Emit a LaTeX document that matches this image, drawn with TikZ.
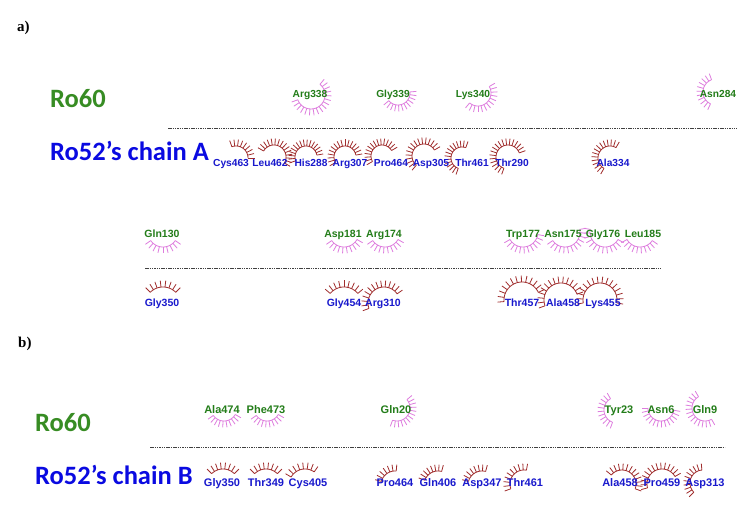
\documentclass[tikz,border=0pt]{standalone}
\usepackage{fontspec}
\setmainfont{Liberation Sans}
\newfontfamily\bigfont{Carlito}
\newfontfamily\serifont{Liberation Serif}
\definecolor{rgreen}{RGB}{35,125,25}
\definecolor{rblue}{RGB}{25,25,205}
\definecolor{lpink}{RGB}{222,125,222}
\definecolor{lred}{RGB}{160,45,45}
\definecolor{bgreen}{RGB}{55,140,35}
\definecolor{bblue}{RGB}{10,10,225}
\newcommand{\lash}[6]{%
  \draw[#6] plot[domain=#4:#5,samples=25,smooth] ({#1+#3*cos(\x)},{#2-#3*sin(\x)});
  \pgfmathtruncatemacro\lashn{max(2,round(abs(#5-#4)/13))}%
  \foreach \i in {0,...,\lashn}{%
    \pgfmathsetmacro\lasht{#4+\i*(#5-#4)/\lashn}%
    \draw[#6] ({#1+#3*cos(\lasht)},{#2-#3*sin(\lasht)}) -- ({#1+(#3+6.5)*cos(\lasht)},{#2-(#3+6.5)*sin(\lasht)});
  }}
\begin{document}
\begin{tikzpicture}[x=1pt,y=-1pt,
  pk/.style={lpink,line width=0.8pt},
  rd/.style={lred,line width=0.8pt},
  sep/.style={black!75,line width=0.6pt,dash pattern=on 1.5pt off 0.8pt},
  gA/.style={text=rgreen,font=\bfseries\fontsize{10.2}{11}\selectfont,anchor=base,inner sep=0pt},
  bA/.style={text=rblue,font=\bfseries\fontsize{10.2}{11}\selectfont,anchor=base,inner sep=0pt},
  gB/.style={text=rgreen,font=\bfseries\fontsize{10.5}{11}\selectfont,anchor=base,inner sep=0pt},
  bB/.style={text=rblue,font=\bfseries\fontsize{10.5}{11}\selectfont,anchor=base,inner sep=0pt},
  gC/.style={text=rgreen,font=\bfseries\fontsize{11}{12}\selectfont,anchor=base,inner sep=0pt},
  bC/.style={text=rblue,font=\bfseries\fontsize{11}{12}\selectfont,anchor=base,inner sep=0pt},
  big/.style={font=\bigfont\bfseries\fontsize{26.5}{30}\selectfont,anchor=base west,inner sep=0pt},
  part/.style={font=\serifont\bfseries\fontsize{15}{17}\selectfont,anchor=base west,inner sep=0pt}]
\useasboundingbox (0,0) rectangle (756,510);
\fill[white] (0,0) rectangle (756,510);

% part labels
\node[part] (pa) at (17,32) {a)};
\node[part] (pb) at (18,348) {b)};

% big labels
\node[big,text=bgreen] (ro60a) at (50,108) {Ro60};
\node[big,text=bblue] (ro52a) at (50,161) {Ro52’s chain A};
\node[big,text=bgreen] (ro60b) at (35,432) {Ro60};
\node[big,text=bblue] (ro52b) at (35,485) {Ro52’s chain B};

% separators
\draw[sep] (168,128) -- (737,128);
\draw[sep] (145,268) -- (661,268);
\draw[sep] (150,447) -- (725,447);

% ---- a) top: Ro60 lashes
\lash{311}{95}{14}{200}{410}{pk}
\lash{398}{93}{12}{220}{365}{pk}
\lash{478}{93}{13}{230}{390}{pk}
\lash{716}{92}{13}{110}{245}{pk}
% ---- a) top: Ro52 lashes
\lash{236}{158}{12}{0}{110}{rd}
\lash{274}{157}{12}{-30}{150}{rd}
\lash{306}{157}{11}{10}{200}{rd}
\lash{345}{157}{11}{10}{210}{rd}
\lash{382}{156}{11}{30}{210}{rd}
\lash{424}{156}{12}{30}{230}{rd}
\lash{462}{158}{11}{70}{250}{rd}
\lash{508}{157}{12}{20}{250}{rd}
\lash{610}{158}{12}{60}{240}{rd}

% ---- a) middle: Ro60 lashes
\lash{163}{232}{15}{215}{325}{pk}
\lash{344}{232}{15}{215}{330}{pk}
\lash{385}{232}{15}{215}{330}{pk}
\lash{523}{232}{15}{210}{350}{pk}
\lash{565}{232}{15}{215}{370}{pk}
\lash{605}{232}{15}{170}{330}{pk}
\lash{640}{232}{15}{210}{325}{pk}
% ---- a) middle: Ro52 lashes
\lash{163}{305}{18}{45}{135}{rd}
\lash{344}{305}{18}{40}{140}{rd}
\lash{384}{303}{16}{35}{200}{rd}
\lash{522}{300}{18}{25}{185}{rd}
\lash{561}{300}{17}{20}{200}{rd}
\lash{600}{300}{17}{-10}{190}{rd}

% ---- b): Ro60 lashes
\lash{224}{408}{13}{215}{330}{pk}
\lash{267}{408}{13}{215}{330}{pk}
\lash{397}{408}{13}{250}{400}{pk}
\lash{617}{410}{13}{120}{250}{pk}
\lash{661}{408}{13}{180}{350}{pk}
\lash{705}{408}{13}{120}{300}{pk}
% ---- b): Ro52 lashes
\lash{223}{485}{16}{45}{135}{rd}
\lash{266}{485}{16}{45}{135}{rd}
\lash{305}{485}{16}{55}{150}{rd}
\lash{395}{485}{14}{85}{165}{rd}
\lash{438}{485}{14}{75}{160}{rd}
\lash{482}{485}{14}{75}{165}{rd}
\lash{524}{484}{14}{80}{200}{rd}
\lash{622}{484}{14}{-20}{140}{rd}
\lash{662}{484}{15}{30}{195}{rd}
\lash{703}{483}{13}{95}{225}{rd}

% ---- labels a) top
\node[gA] (a1) at (310,97.6) {Arg338};
\node[gA] (a2) at (393,97.6) {Gly339};
\node[gA] (a3) at (473,97.6) {Lys340};
\node[gA] (a4) at (718,97.6) {Asn284};
\node[bA] (a5) at (231,166.6) {Cys463};
\node[bA] (a6) at (270,166.6) {Leu462};
\node[bA] (a7) at (311,166.6) {His288};
\node[bA] (a8) at (350,166.6) {Arg307};
\node[bA] (a9) at (391,166.6) {Pro464};
\node[bA] (a10) at (431,166.6) {Asp305};
\node[bA] (a11) at (472,166.6) {Thr461};
\node[bA] (a12) at (512,166.6) {Thr290};
\node[bA] (a13) at (613,166.6) {Ala334};
% ---- labels a) middle
\node[gB] (m1) at (162,237.8) {Gln130};
\node[gB] (m2) at (343,237.8) {Asp181};
\node[gB] (m3) at (384,237.8) {Arg174};
\node[gB] (m4) at (523,237.8) {Trp177};
\node[gB] (m5) at (563,237.8) {Asn175};
\node[gB] (m6) at (603,237.8) {Gly176};
\node[gB] (m7) at (643,237.8) {Leu185};
\node[bB] (m8) at (162,306.8) {Gly350};
\node[bB] (m9) at (344,306.8) {Gly454};
\node[bB] (m10) at (383,306.8) {Arg310};
\node[bB] (m11) at (522,306.8) {Thr457};
\node[bB] (m12) at (563,306.8) {Ala458};
\node[bB] (m13) at (603,306.8) {Lys455};
% ---- labels b)
\node[gC] (b1) at (222,414) {Ala474};
\node[gC] (b2) at (266,414) {Phe473};
\node[gC] (b3) at (396,414) {Gln20};
\node[gC] (b4) at (619,414) {Tyr23};
\node[gC] (b5) at (661,414) {Asn6};
\node[gC] (b6) at (705,414) {Gln9};
\node[bC] (b7) at (222,487) {Gly350};
\node[bC] (b8) at (266,487) {Thr349};
\node[bC] (b9) at (308,487) {Cys405};
\node[bC] (b10) at (395,487) {Pro464};
\node[bC] (b11) at (438,487) {Gln406};
\node[bC] (b12) at (482,487) {Asp347};
\node[bC] (b13) at (525,487) {Thr461};
\node[bC] (b14) at (620,487) {Ala458};
\node[bC] (b15) at (662,487) {Pro459};
\node[bC] (b16) at (705,487) {Asp313};
\end{tikzpicture}
\end{document}
